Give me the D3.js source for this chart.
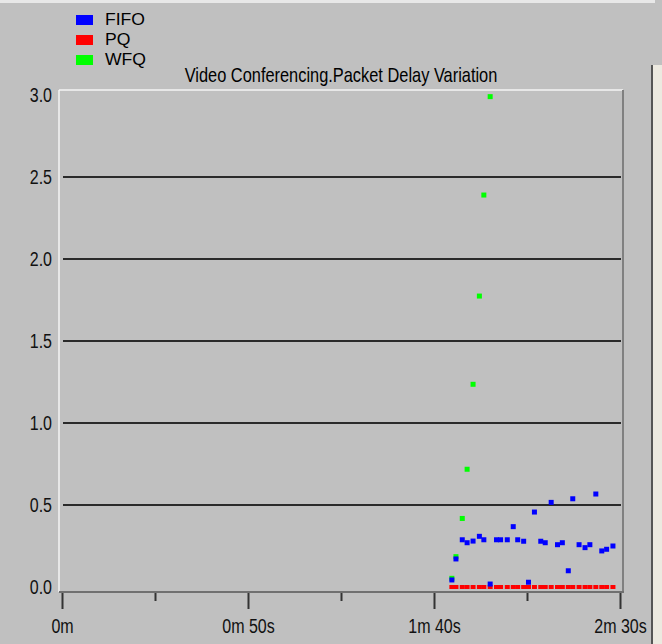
<!DOCTYPE html>
<html>
<head>
<meta charset="utf-8">
<script src="https://cdn.jsdelivr.net/npm/d3@7"></script>
<style>
  html, body { margin: 0; padding: 0; background: #c0c0c0; }
  svg { display: block; }
</style>
</head>
<body>
<svg id="chart" width="662" height="644"></svg>
<script>
// sample times (seconds) shared by all three queues
var times = [104.8, 105.9, 107.6, 108.9, 110.5, 112.2, 113.4, 115.1, 116.8, 117.9,
             119.7, 121.3, 122.5, 124.1, 125.4, 127.0, 128.7, 129.9, 131.5, 133.2,
             134.5, 136.1, 137.3, 139.0, 140.6, 141.9, 143.5, 145.1, 146.4, 148.1];

var fifo = [0.043, 0.171, 0.288, 0.270, 0.280, 0.309, 0.288, 0.018, 0.288, 0.288,
            0.288, 0.368, 0.288, 0.279, 0.029, 0.457, 0.279, 0.270, 0.516, 0.258,
            0.270, 0.099, 0.538, 0.258, 0.240, 0.258, 0.567, 0.220, 0.230, 0.250];

var pq = [0.0, 0.0, 0.0, 0.0, 0.0, 0.0, 0.0, 0.0, 0.0, 0.0,
          0.0, 0.0, 0.0, 0.0, 0.0, 0.0, 0.0, 0.0, 0.0, 0.0,
          0.0, 0.0, 0.0, 0.0, 0.0, 0.0, 0.0, 0.0, 0.0, 0.0];

// WFQ only has the first 8 samples, then goes off scale
var wfq = [0.053, 0.185, 0.418, 0.718, 1.236, 1.774, 2.390, 2.990];

var seriesNames = ["FIFO", "PQ", "WFQ"];
var seriesColors = ["#0000ff", "#ff0000", "#00ff00"];

var title = "Video Conferencing.Packet Delay Variation";
var xMajorTicks = [0, 50, 100, 150];
var xMajorLabels = ["0m", "0m 50s", "1m 40s", "2m 30s"];
var xMinorTicks = [25, 75, 125];
var yTicks = [0.0, 0.5, 1.0, 1.5, 2.0, 2.5, 3.0];
var yGrid = [0.5, 1.0, 1.5, 2.0, 2.5];

var width = 662, height = 644;
var frame = { left: 59, top: 90, right: 623, bottom: 592 };
var font = "'Liberation Sans', Arial, sans-serif";
var sx = 0.8;  // screenshot text is tall and narrow

var svg = d3.select("#chart");

var x = d3.scaleLinear().domain([0, 150]).range([62, 620]);
var y = d3.scaleLinear().domain([0, 3]).range([587, 95]);

// window chrome
svg.append("rect").attr("x", 0).attr("y", 0).attr("width", width).attr("height", height).attr("fill", "#c0c0c0");
svg.append("rect").attr("x", 0).attr("y", 0).attr("width", 655).attr("height", 3).attr("fill", "#e8e8e8");
svg.append("rect").attr("x", 653).attr("y", 65).attr("width", 9).attr("height", height - 65).attr("fill", "#ece9e0");
svg.append("rect").attr("x", 651).attr("y", 65).attr("width", 2).attr("height", height - 65).attr("fill", "#555");

// legend
var legend = svg.append("g");
seriesNames.forEach(function (name, i) {
    legend.append("rect")
        .attr("x", 76).attr("y", 15 + i * 20)
        .attr("width", 17).attr("height", 10)
        .attr("fill", seriesColors[i]);
    legend.append("text")
        .attr("transform", "translate(105," + (25 + i * 20) + ") scale(1.1,1)")
        .attr("font-family", font).attr("font-size", "16px")
        .attr("fill", "#000")
        .text(name);
});

// title
svg.append("text")
    .attr("transform", "translate(341,82) scale(0.82,1)")
    .attr("text-anchor", "middle")
    .attr("font-family", font).attr("font-size", "20px")
    .attr("fill", "#000")
    .text(title);

// gridlines
svg.append("g")
    .selectAll("line")
    .data(yGrid)
    .join("line")
    .attr("x1", 63).attr("x2", 621)
    .attr("y1", function (d) { return y(d); })
    .attr("y2", function (d) { return y(d); })
    .attr("stroke", "#2a2a2a").attr("stroke-width", 2);

// frame
svg.append("line").attr("x1", frame.left).attr("x2", frame.right).attr("y1", frame.top).attr("y2", frame.top)
    .attr("stroke", "#f4f4f4").attr("stroke-width", 1.5);
svg.append("line").attr("x1", frame.left).attr("x2", frame.left).attr("y1", frame.top).attr("y2", frame.bottom)
    .attr("stroke", "#f4f4f4").attr("stroke-width", 1.5);
svg.append("line").attr("x1", frame.right).attr("x2", frame.right).attr("y1", frame.top).attr("y2", frame.bottom)
    .attr("stroke", "#808080").attr("stroke-width", 2);

// x axis
var xAxis = svg.append("g")
    .attr("transform", "translate(0," + frame.bottom + ")")
    .call(d3.axisBottom(x).tickValues(xMajorTicks).tickSize(17).tickPadding(10)
        .tickFormat(function (d, i) { return xMajorLabels[i]; }));
xAxis.select(".domain").remove();
xAxis.selectAll(".tick line").attr("stroke", "#333").attr("stroke-width", 2);
xAxis.selectAll(".tick text")
    .attr("font-family", font).attr("font-size", "20px").attr("fill", "#111")
    .attr("transform", "scale(" + sx + ",1)");

var xMinor = svg.append("g")
    .attr("transform", "translate(0," + frame.bottom + ")")
    .call(d3.axisBottom(x).tickValues(xMinorTicks).tickSize(9).tickFormat(""));
xMinor.select(".domain").remove();
xMinor.selectAll(".tick line").attr("stroke", "#333").attr("stroke-width", 2);

svg.append("line").attr("x1", frame.left).attr("x2", frame.right + 1).attr("y1", frame.bottom).attr("y2", frame.bottom)
    .attr("stroke", "#707070").attr("stroke-width", 2);

// y axis
var yAxis = svg.append("g")
    .attr("transform", "translate(" + frame.left + ",0)")
    .call(d3.axisLeft(y).tickValues(yTicks).tickSize(0).tickPadding(7)
        .tickFormat(d3.format(".1f")));
yAxis.select(".domain").remove();
yAxis.selectAll(".tick text")
    .attr("font-family", font).attr("font-size", "20px").attr("fill", "#111")
    .attr("x", -7 / sx)
    .attr("transform", "scale(" + sx + ",1)");

// markers: WFQ under, then PQ, then FIFO on top
var marks = svg.append("g");

marks.append("g").attr("fill", seriesColors[2])
    .selectAll("rect")
    .data(wfq)
    .join("rect")
    .attr("x", function (d, i) { return x(times[i]) - 2.5; })
    .attr("y", function (d) { return y(d) - 2.5; })
    .attr("width", 5).attr("height", 5);

marks.append("g").attr("fill", seriesColors[1])
    .selectAll("rect")
    .data(pq)
    .join("rect")
    .attr("x", function (d, i) { return x(times[i]) - 2.5; })
    .attr("y", function (d) { return y(d) - 2; })
    .attr("width", 5).attr("height", 4);

marks.append("g").attr("fill", seriesColors[0])
    .selectAll("rect")
    .data(fifo)
    .join("rect")
    .attr("x", function (d, i) { return x(times[i]) - 2.5; })
    .attr("y", function (d) { return y(d) - 2.5; })
    .attr("width", 5).attr("height", 5);
</script>
</body>
</html>
